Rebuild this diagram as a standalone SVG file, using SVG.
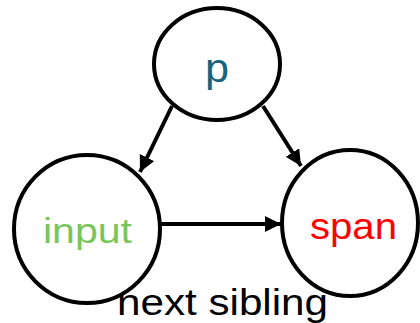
<svg xmlns="http://www.w3.org/2000/svg" width="420" height="323" viewBox="0 0 420 323">
<style>
.node{fill:#fff;stroke:#000;stroke-width:4}
.lbl{font-family:"Liberation Sans",Arial,sans-serif;text-anchor:middle}
.edge{stroke:#000;stroke-width:4;fill:none}
</style>
<defs>
<marker id="arr" markerUnits="userSpaceOnUse" markerWidth="20" markerHeight="20" refX="16" refY="8" orient="auto">
<path d="M0,0 L16,8 L0,16 Z" fill="#000"/>
</marker>
</defs>
<g id="edges">
<line class="edge" x1="172" y1="106" x2="140" y2="172" marker-end="url(#arr)"/>
<line class="edge" x1="263" y1="106" x2="301" y2="166" marker-end="url(#arr)"/>
<line class="edge" x1="160" y1="224" x2="281" y2="224" marker-end="url(#arr)"/>
</g>
<g id="p">
<ellipse class="node" cx="217" cy="64" rx="63" ry="56"/>
<text class="lbl" x="217" y="82" font-size="40" fill="#17657d" textLength="24" lengthAdjust="spacingAndGlyphs">p</text>
</g>
<g id="input">
<ellipse class="node" cx="87" cy="229" rx="73" ry="74"/>
<text class="lbl" x="87.5" y="243" font-size="35" fill="#7ac55b" textLength="89" lengthAdjust="spacingAndGlyphs">input</text>
</g>
<g id="span">
<ellipse class="node" cx="350" cy="223" rx="68" ry="73"/>
<text class="lbl" x="353.5" y="239" font-size="36" fill="#ff0000" textLength="87" lengthAdjust="spacingAndGlyphs">span</text>
</g>
<text class="lbl" x="222.5" y="315" font-size="36" fill="#000" textLength="211" lengthAdjust="spacingAndGlyphs">next sibling</text>
</svg>
